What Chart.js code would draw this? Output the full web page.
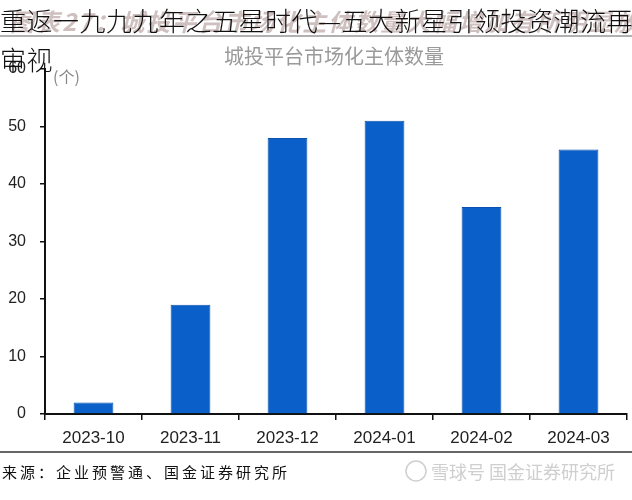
<!DOCTYPE html>
<html>
<head>
<meta charset="utf-8">
<script src="https://cdn.jsdelivr.net/npm/chart.js@4/dist/chart.umd.min.js"></script>
<style>
  html, body { margin: 0; padding: 0; background: #fff; }
  #wrap { position: relative; width: 632px; height: 500px; overflow: hidden; }
  canvas { position: absolute; left: 0; top: 0; }
  .ghost { position: absolute; left: 10px; top: 3px; font: italic bold 24px "Noto Sans CJK SC", sans-serif; color: rgba(175,150,150,0.6); white-space: nowrap; letter-spacing: 2px; }
  .title { position: absolute; left: 0; top: 0; width: 650px; font: 300 26px "Noto Sans CJK SC", sans-serif; color: #111; line-height: 39px; letter-spacing: 0.5px; white-space: nowrap; }
</style>
</head>
<body>
<div id="wrap">
  <canvas id="c" width="632" height="500"></canvas>
  <div class="ghost">图表27：城投平台市场化主体数量大幅增加有所明显放缓</div>
  <div class="title">重返一九九九年之五星时代—五大新星引领投资潮流再<br>审视</div>
</div>
<script>
const categories = ["2023-10", "2023-11", "2023-12", "2024-01", "2024-02", "2024-03"];
const counts = [2, 19, 48, 51, 36, 46];
const yTicks = [0, 10, 20, 30, 40, 50, 60];
const subtitleText = "城投平台市场化主体数量";
const unitText = "(个)";
const sourceText = "来源：企业预警通、国金证券研究所";
const watermarkText = "雪球号 国金证券研究所";

const decor = {
  id: 'decor',
  afterDraw(chart) {
    const ctx = chart.ctx;
    ctx.save();
    // grey rule under title line
    ctx.strokeStyle = '#b0b0b0';
    ctx.lineWidth = 2;
    ctx.beginPath(); ctx.moveTo(0, 36); ctx.lineTo(632, 36); ctx.stroke();
    // subtitle
    ctx.fillStyle = '#9a9a9a';
    ctx.font = '20px "Noto Sans CJK SC", sans-serif';
    ctx.textAlign = 'center'; ctx.textBaseline = 'middle';
    ctx.fillText(subtitleText, 334, 56);
    // unit
    ctx.fillStyle = '#888';
    ctx.font = '16px "Noto Sans CJK SC", sans-serif';
    ctx.textAlign = 'left';
    ctx.fillText(unitText, 53, 77);
    // bottom rule
    ctx.strokeStyle = '#333';
    ctx.lineWidth = 1.5;
    ctx.beginPath(); ctx.moveTo(0, 452); ctx.lineTo(632, 452); ctx.stroke();
    // source
    ctx.fillStyle = '#111';
    ctx.font = '15px "Noto Sans CJK SC", serif';
    ctx.textAlign = 'left';
    let x = 2;
    for (const ch of sourceText) { ctx.fillText(ch, x, 472); x += 18; }
    // watermark
    ctx.strokeStyle = '#cfcfcf'; ctx.lineWidth = 1.5;
    ctx.beginPath(); ctx.arc(416, 471, 10, 0, Math.PI * 2); ctx.stroke();
    ctx.fillStyle = '#cfcfcf';
    ctx.font = '18px "Noto Sans CJK SC", sans-serif';
    ctx.fillText(watermarkText, 431, 472);
    ctx.restore();
  }
};

new Chart(document.getElementById('c'), {
  type: 'bar',
  data: {
    labels: categories,
    datasets: [{
      data: counts,
      backgroundColor: '#0a5fc8',
      borderColor: '#0a52b0',
      borderWidth: 1,
      barPercentage: 0.41,
      categoryPercentage: 1.0
    }]
  },
  options: {
    responsive: false,
    animation: false,
    devicePixelRatio: 1,
    layout: { padding: { top: 69, right: 5, left: 0, bottom: 0 } },
    plugins: { legend: { display: false }, tooltip: { enabled: false } },
    scales: {
      y: {
        min: 0, max: 60,
        afterBuildTicks(scale) { scale.ticks = yTicks.map(v => ({ value: v })); },
        afterFit(scale) { scale.width = 45; },
        ticks: { font: { family: '"Liberation Sans", Arial, sans-serif', size: 16 }, color: '#222', padding: 14 },
        grid: { drawOnChartArea: false, tickLength: 5, color: '#111', lineWidth: 1.5 },
        border: { color: '#111', width: 2 }
      },
      x: {
        afterFit(scale) { scale.height = 86; },
        ticks: { font: { family: '"Liberation Sans", Arial, sans-serif', size: 17 }, color: '#222', padding: 8, maxRotation: 0 },
        grid: { offset: true, drawOnChartArea: false, tickLength: 6, color: '#111', lineWidth: 1.5 },
        border: { color: '#111', width: 2 }
      }
    }
  },
  plugins: [decor]
});
</script>
</body>
</html>
